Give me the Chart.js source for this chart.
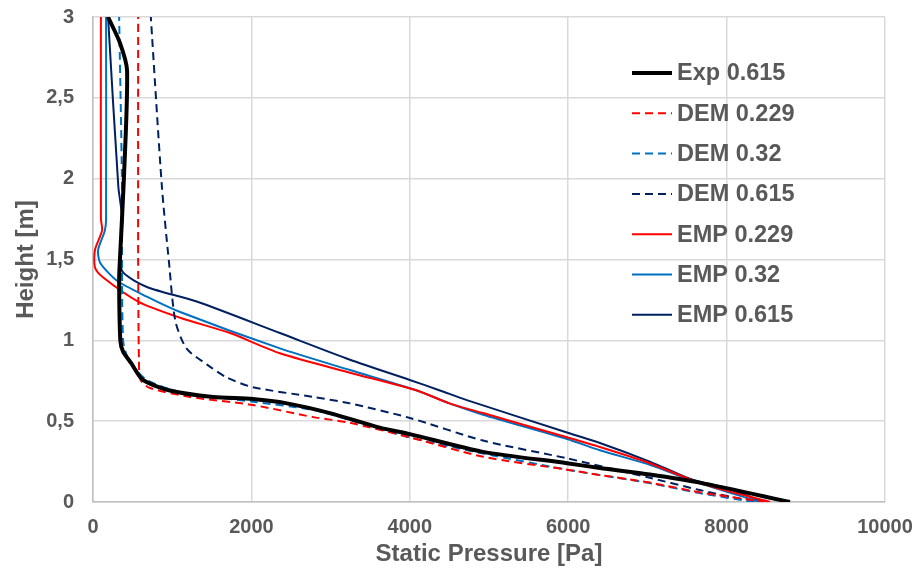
<!DOCTYPE html>
<html>
<head>
<meta charset="utf-8">
<script src="https://cdn.jsdelivr.net/npm/chart.js@4.4.0/dist/chart.umd.min.js"></script>
<style>
  html, body { margin: 0; padding: 0; background: #fff; }
  #wrap { width: 916px; height: 570px; }
</style>
</head>
<body>
<div id="wrap"><canvas id="c" width="916" height="570"></canvas></div>
<script>
// --- données (pression [Pa], hauteur [m]) ---
const seriesNames = ['Exp 0.615', 'DEM 0.229', 'DEM 0.32', 'DEM 0.615', 'EMP 0.229', 'EMP 0.32', 'EMP 0.615'];

const expP = [8800, 7660, 7030, 6400, 5985, 4925, 4000, 3620, 2990, 2450, 2020, 1515, 970, 630, 480, 380, 345, 330, 340, 390, 430, 340, 190];
const expH = [0, 0.12, 0.17, 0.21, 0.24, 0.31, 0.42, 0.46, 0.55, 0.61, 0.637, 0.65, 0.69, 0.755, 0.86, 0.93, 1.0, 1.37, 1.5, 2.0, 2.67, 2.84, 3.0];

const dem229P = [8500, 7660, 7030, 6400, 5985, 4925, 4000, 3245, 2780, 2020, 1225, 720, 600, 580, 570, 570];
const dem229H = [0, 0.06, 0.12, 0.167, 0.20, 0.28, 0.40, 0.49, 0.525, 0.60, 0.65, 0.705, 0.755, 0.88, 1.5, 3.0];

const dem32P = [8350, 7660, 7030, 5985, 4925, 4000, 3245, 2780, 2020, 1100, 680, 470, 380, 365, 330];
const dem32H = [0, 0.055, 0.117, 0.20, 0.30, 0.40, 0.507, 0.57, 0.62, 0.68, 0.755, 0.86, 1.0, 2.0, 3.0];

const dem615P = [8350, 7660, 7030, 5985, 4925, 4000, 3245, 2780, 2020, 1690, 1440, 1180, 1040, 960, 870, 730];
const dem615H = [0, 0.074, 0.15, 0.27, 0.38, 0.52, 0.61, 0.65, 0.71, 0.77, 0.85, 0.95, 1.12, 1.48, 1.95, 3.0];

const emp229P = [8550, 7660, 7030, 6400, 5985, 4925, 4500, 4090, 3245, 2360, 1730, 1100, 570, 125, 25, 25, 115, 100, 100];
const emp229H = [0, 0.117, 0.24, 0.34, 0.40, 0.55, 0.61, 0.69, 0.80, 0.92, 1.045, 1.14, 1.24, 1.39, 1.45, 1.56, 1.68, 1.75, 3.0];

const emp32P = [8420, 7580, 7030, 6400, 5985, 4925, 4500, 4090, 3245, 2360, 1100, 680, 300, 90, 65, 150, 165, 165];
const emp32H = [0, 0.13, 0.23, 0.32, 0.39, 0.54, 0.61, 0.69, 0.816, 0.95, 1.175, 1.27, 1.37, 1.48, 1.56, 1.68, 1.75, 3.0];

const emp615P = [8460, 8000, 7580, 7030, 6400, 5985, 4720, 4380, 4000, 3245, 2360, 1310, 680, 380, 340, 370, 320, 190];
const emp615H = [0, 0.087, 0.136, 0.25, 0.365, 0.43, 0.63, 0.69, 0.755, 0.88, 1.045, 1.24, 1.33, 1.42, 1.52, 1.75, 1.95, 3.0];

const xTicks = [0, 2000, 4000, 6000, 8000, 10000];
const yTicks = [0, 0.5, 1, 1.5, 2, 2.5, 3];

// --- construction des jeux de données ---
function pts(p, h) { return p.map((v, i) => ({x: v, y: h[i]})); }

const styles = [
    {c: '#000000', w: 4, d: []},
    {c: '#FF0000', w: 2, d: [8, 5]},
    {c: '#0070C0', w: 2, d: [8, 5]},
    {c: '#002060', w: 2, d: [8, 5]},
    {c: '#FF0000', w: 2, d: []},
    {c: '#0070C0', w: 2, d: []},
    {c: '#002060', w: 2, d: []}
];
const allP = [expP, dem229P, dem32P, dem615P, emp229P, emp32P, emp615P];
const allH = [expH, dem229H, dem32H, dem615H, emp229H, emp32H, emp615H];

const datasets = seriesNames.map((n, i) => ({
    label: n,
    data: pts(allP[i], allH[i]),
    showLine: true,
    borderColor: styles[i].c,
    backgroundColor: styles[i].c,
    borderWidth: styles[i].w,
    borderDash: styles[i].d,
    pointRadius: 0,
    tension: 0.25,
    fill: false
}));

const FONT = '"Liberation Sans", Arial, sans-serif';
const GREY = '#595959';

// légende dessinée dans la zone du graphique
const insideLegend = {
    id: 'insideLegend',
    afterDraw(chart) {
        const ctx = chart.ctx;
        ctx.save();
        ctx.font = 'bold 23.5px ' + FONT;
        ctx.textBaseline = 'middle';
        chart.data.datasets.forEach((ds, i) => {
            const y = 73 + i * 40.3;
            ctx.strokeStyle = ds.borderColor;
            ctx.lineWidth = ds.borderWidth;
            ctx.setLineDash(ds.borderDash);
            ctx.beginPath();
            ctx.moveTo(632, y);
            ctx.lineTo(672, y);
            ctx.stroke();
            ctx.setLineDash([]);
            ctx.fillStyle = GREY;
            ctx.fillText(ds.label, 677, y + 1);
        });
        ctx.restore();
    }
};

new Chart(document.getElementById('c'), {
    type: 'scatter',
    data: { datasets: datasets },
    plugins: [insideLegend],
    options: {
        responsive: false,
        animation: false,
        layout: { padding: { top: 17, right: 31, left: 0, bottom: 0 } },
        plugins: { legend: { display: false }, tooltip: { enabled: false } },
        scales: {
            x: {
                type: 'linear', min: 0, max: 10000,
                afterBuildTicks: s => { s.ticks = xTicks.map(v => ({value: v})); },
                afterFit: s => { s.height = 68; s.paddingLeft = 0; s.paddingRight = 0; },
                grid: { color: '#D9D9D9', lineWidth: 1.5, drawTicks: false },
                border: { color: '#BFBFBF', width: 1.5 },
                ticks: { color: GREY, font: { family: FONT, size: 20, weight: 'bold' }, padding: 13, maxRotation: 0,
                         callback: v => String(v) },
                title: { display: true, text: 'Static Pressure [Pa]', color: GREY,
                         font: { family: FONT, size: 24, weight: 'bold' }, padding: { top: 0, bottom: 1 } }
            },
            y: {
                type: 'linear', min: 0, max: 3,
                afterBuildTicks: s => { s.ticks = yTicks.map(v => ({value: v})); },
                afterFit: s => { s.width = 93; s.paddingTop = 0; s.paddingBottom = 0; },
                grid: { color: '#D9D9D9', lineWidth: 1.5, drawTicks: false },
                border: { color: '#BFBFBF', width: 1.5 },
                ticks: { color: GREY, font: { family: FONT, size: 20, weight: 'bold' }, padding: 19,
                         callback: v => String(v).replace('.', ',') },
                title: { display: true, text: 'Height [m]', color: GREY,
                         font: { family: FONT, size: 24, weight: 'bold' }, padding: { top: 12, bottom: 0 } }
            }
        }
    }
});
</script>
</body>
</html>
